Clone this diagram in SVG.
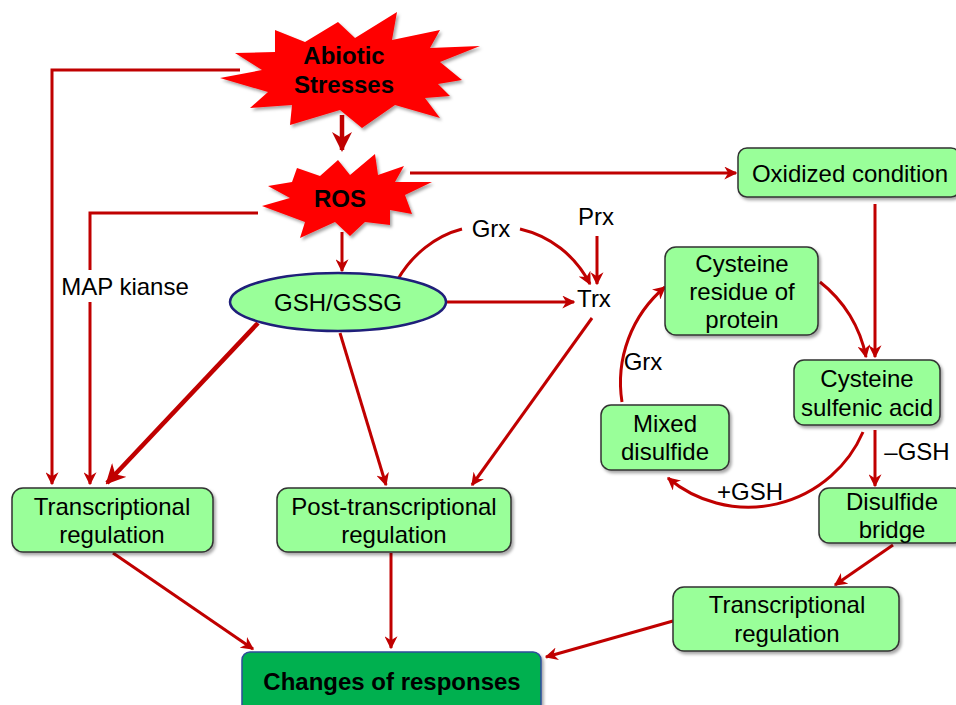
<svg xmlns="http://www.w3.org/2000/svg" width="956" height="705" viewBox="0 0 956 705">
<defs>
<style>
.t{font-family:"Liberation Sans",Arial,sans-serif;font-size:24px;fill:#000;text-anchor:middle}
.b{font-weight:bold}
.box{fill:#99FF99;stroke:#333;stroke-width:1.5}
.c{fill:none;stroke:#C00000;stroke-width:3}
.ck{fill:none;stroke:#C00000;stroke-width:4.5}
.star{fill:#FF0000;stroke:none}
</style>
<marker id="a" viewBox="0 0 10 10" refX="9" refY="5" markerWidth="13" markerHeight="13" markerUnits="userSpaceOnUse" orient="auto">
<path d="M0,0 L10,5 L0,10 L3,5 z" fill="#C00000"/>
</marker>
<marker id="ak" viewBox="0 0 10 10" refX="9" refY="5" markerWidth="20" markerHeight="20" markerUnits="userSpaceOnUse" orient="auto">
<path d="M0,0 L10,5 L0,10 L3,5 z" fill="#C00000"/>
</marker>
<filter id="sh" x="-10%" y="-10%" width="130%" height="140%">
<feDropShadow dx="2" dy="2.5" stdDeviation="1.5" flood-color="#000" flood-opacity="0.35"/>
</filter>
</defs>
<rect width="956" height="705" fill="#fff"/>

<g id="connectors">
<path class="c" d="M240,70 H52 V484" marker-end="url(#a)"/>
<path class="c" d="M258,213 H90 V270"/>
<path class="c" d="M90,300 V484" marker-end="url(#a)"/>
<path class="ck" d="M342,115 V150" marker-end="url(#ak)"/>
<path class="c" d="M342,232 V271" marker-end="url(#a)"/>
<path class="c" d="M410,173 H736" marker-end="url(#a)"/>
<path class="c" d="M398,279 C412,255 435,236 462,229"/>
<path class="c" d="M520,229 C550,236 575,255 590,284" marker-end="url(#a)"/>
<path class="c" d="M597,236 V284" marker-end="url(#a)"/>
<path class="c" d="M447,302 H574" marker-end="url(#a)"/>
<path class="ck" d="M258,323 L107,483" marker-end="url(#ak)"/>
<path class="c" d="M340,333 L386,485" marker-end="url(#a)"/>
<path class="c" d="M592,318 L472,485" marker-end="url(#a)"/>
<path class="c" d="M875,204 V357" marker-end="url(#a)"/>
<path class="c" d="M820,282 A125,125 0 0 1 866,357" marker-end="url(#a)"/>
<path class="c" d="M875,430 V486" marker-end="url(#a)"/>
<path class="c" d="M863,432 A125,125 0 0 1 668,478" marker-end="url(#a)"/>
<path class="c" d="M622,402 A125,125 0 0 1 665,287" marker-end="url(#a)"/>
<path class="c" d="M893,545 L835,585" marker-end="url(#a)"/>
<path class="c" d="M673,621 L546,657" marker-end="url(#a)"/>
<path class="c" d="M113,553 L253,649" marker-end="url(#a)"/>
<path class="c" d="M391,553 V648" marker-end="url(#a)"/>
</g>

<g id="abiotic">
<polygon class="star" filter="url(#sh)" points="338,22 355,38 397,12 392,40 440,30 430,48 480,46 440,62 462,80 438,84 450,96 425,98 440,118 395,105 362,128 340,110 290,125 292,105 250,108 268,92 220,78 262,70 235,53 275,52 275,30 305,42"/>
<text class="t b" x="344" y="64">Abiotic</text>
<text class="t b" x="344" y="93">Stresses</text>
</g>

<g id="ros">
<polygon class="star" filter="url(#sh)" points="338,160 350,175 375,154 378,175 404,166 395,182 432,182 405,195 412,214 390,210 390,225 365,222 350,236 335,222 300,238 305,222 262,206 290,198 268,186 292,182 297,168 320,176"/>
<text class="t b" x="340" y="207">ROS</text>
</g>

<g id="gsh">
<ellipse cx="338" cy="302" rx="108" ry="29" fill="#99FF99" stroke="#1F1F7A" stroke-width="2.5"/>
<text class="t" x="338" y="311">GSH/GSSG</text>
</g>

<g id="labels">
<text class="t" x="491" y="237">Grx</text>
<text class="t" x="596" y="225">Prx</text>
<text class="t" x="594" y="307">Trx</text>
<rect x="60" y="272" width="130" height="30" fill="#fff"/>
<text class="t" x="125" y="295">MAP kianse</text>
<text class="t" x="643" y="370">Grx</text>
<text class="t" x="917" y="460">–GSH</text>
<text class="t" x="750" y="500">+GSH</text>
</g>

<g id="oxidized">
<rect class="box" filter="url(#sh)" x="738" y="148" width="222" height="49" rx="9"/>
<text class="t" x="850" y="182">Oxidized condition</text>
</g>

<g id="cysres">
<rect class="box" filter="url(#sh)" x="665" y="247" width="153" height="88" rx="11"/>
<text class="t" x="742" y="272">Cysteine</text>
<text class="t" x="742" y="300">residue of</text>
<text class="t" x="742" y="328">protein</text>
</g>

<g id="cyssulf">
<rect class="box" filter="url(#sh)" x="794" y="360" width="146" height="65" rx="10"/>
<text class="t" x="867" y="387">Cysteine</text>
<text class="t" x="867" y="416">sulfenic acid</text>
</g>

<g id="mixed">
<rect class="box" filter="url(#sh)" x="601" y="405" width="128" height="65" rx="10"/>
<text class="t" x="665" y="432">Mixed</text>
<text class="t" x="665" y="460">disulfide</text>
</g>

<g id="disulfide">
<rect class="box" filter="url(#sh)" x="819" y="488" width="145" height="55" rx="10"/>
<text class="t" x="892" y="510">Disulfide</text>
<text class="t" x="892" y="538">bridge</text>
</g>

<g id="transR">
<rect class="box" filter="url(#sh)" x="673" y="587" width="226" height="64" rx="11"/>
<text class="t" x="787" y="613">Transcriptional</text>
<text class="t" x="787" y="642">regulation</text>
</g>

<g id="transL">
<rect class="box" filter="url(#sh)" x="12" y="488" width="201" height="64" rx="11"/>
<text class="t" x="112" y="515">Transcriptional</text>
<text class="t" x="112" y="543">regulation</text>
</g>

<g id="post">
<rect class="box" filter="url(#sh)" x="277" y="488" width="234" height="64" rx="11"/>
<text class="t" x="394" y="515">Post-transcriptional</text>
<text class="t" x="394" y="543">regulation</text>
</g>

<g id="changes">
<rect filter="url(#sh)" x="242" y="652" width="299" height="70" rx="8" fill="#00B050" stroke="#2E4C9A" stroke-width="1.5"/>
<text class="t b" x="392" y="690">Changes of responses</text>
</g>
</svg>
